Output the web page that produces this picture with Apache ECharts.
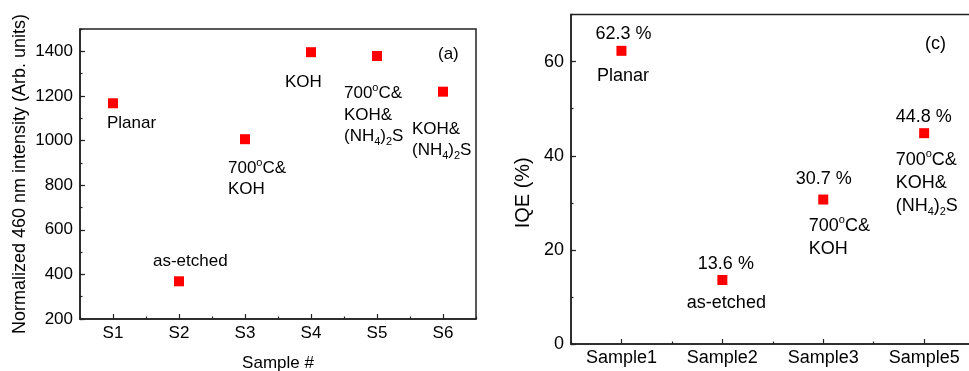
<!DOCTYPE html>
<html><head><meta charset="utf-8">
<script src="https://cdn.jsdelivr.net/npm/echarts@6/dist/echarts.min.js"></script>
<style>html,body{margin:0;padding:0;background:#fff}#c{width:969px;height:371px}</style>
</head><body><div id="c"></div>
<script>
// ---- data ----
const leftCategories = ['S1', 'S2', 'S3', 'S4', 'S5', 'S6'];
const leftValues = [1167, 369, 1006, 1396, 1379, 1219];
const leftNotes = ['Planar', 'as-etched', '700{sup|o}C&\nKOH', 'KOH',
  '700{sup|o}C&\nKOH&\n(NH{sub|4}){sub|2}S', 'KOH&\n(NH{sub|4}){sub|2}S'];

const rightCategories = ['Sample1', 'Sample2', 'Sample3', 'Sample5'];
const rightValues = [62.3, 13.6, 30.7, 44.8];
const rightNotes = ['Planar', 'as-etched', '700{sup|o}C&\nKOH',
  '700{sup|o}C&\nKOH&\n(NH{sub|4}){sub|2}S'];

// ---- layout (offsets of label's first line: left edge / line centre, from marker centre) ----
const leftNoteAt = [[-6, 20.5], [-26, -20], [-17, 29], [-26, 30], [-33, 37.5], [-31, 37.3]];
const rightValueAt = [[-26, -16.7], [-24.5, -15.7], [-27.5, -20.5], [-28.5, -15.8]];
const rightNoteAt = [[-24.5, 24.8], [-35.5, 22.8], [-14.5, 26], [-28.5, 27.2]];

const FONT = '"Liberation Sans", Arial, Helvetica, sans-serif';
const TXT = '#000';
const AX = '#222';
const RED = '#ff0000';
const SYM = 10;

function richFor(fs) {
  return {
    sup: { fontSize: Math.round(fs * 0.62), lineHeight: 12, verticalAlign: 'top', fontFamily: FONT, color: TXT },
    sub: { fontSize: Math.round(fs * 0.62), lineHeight: 12, verticalAlign: 'bottom', fontFamily: FONT, color: TXT }
  };
}
function labelAt(text, at, fs, lh) {
  return {
    show: true,
    formatter: text,
    position: [SYM / 2 + at[0], SYM / 2 + at[1] - lh / 2],
    align: 'left', verticalAlign: 'top',
    fontSize: fs, lineHeight: lh, fontFamily: FONT, color: TXT, opacity: 1,
    rich: richFor(fs)
  };
}

const LFS = 17, LLH = 21.5;
const RFS = 18, RLH = 23;

const leftData = leftValues.map((v, i) => ({ value: v, label: labelAt(leftNotes[i], leftNoteAt[i], LFS, LLH) }));
const rightValData = rightValues.map((v, i) => ({ value: v, label: labelAt(v.toFixed(1) + ' %', rightValueAt[i], RFS, RLH) }));
const rightNoteData = rightValues.map((v, i) => ({ value: v, label: labelAt(rightNotes[i], rightNoteAt[i], RFS, RLH) }));

const axisLine = { show: true, lineStyle: { color: AX, width: 1.5 } };
const majorTick = { show: true, inside: true, length: 5, alignWithLabel: true, lineStyle: { color: AX, width: 1.2 } };
const minorTick = { show: true, inside: true, length: 2.5, lineStyle: { color: AX, width: 1.2 } };
const plain = v => String(v);

const option = {
  animation: false,
  backgroundColor: '#fff',
  grid: [
    { left: 80, top: 29, width: 396, height: 290, show: true, borderColor: AX, borderWidth: 1.5,
      containLabel: false, outerBoundsMode: 'none' },
    { left: 571, top: 14.6, width: 403.6, height: 329.4, show: true, borderColor: AX, borderWidth: 1.5,
      containLabel: false, outerBoundsMode: 'none' }
  ],
  xAxis: [
    { type: 'category', gridIndex: 0, position: 'bottom', data: leftCategories, boundaryGap: true,
      axisLine: axisLine, axisTick: majorTick,
      axisLabel: { fontSize: LFS, fontFamily: FONT, color: TXT, margin: 6 },
      name: 'Sample #', nameLocation: 'middle', nameGap: 36,
      nameTextStyle: { fontSize: 17, fontFamily: FONT, color: TXT },
      splitLine: { show: false } },
    { type: 'category', gridIndex: 0, position: 'bottom', data: leftCategories, boundaryGap: true,
      axisLine: { show: false }, axisTick: Object.assign({}, minorTick, { alignWithLabel: false }),
      axisLabel: { show: false }, splitLine: { show: false } },
    { type: 'category', gridIndex: 1, position: 'bottom', data: rightCategories, boundaryGap: true,
      axisLine: axisLine, axisTick: majorTick,
      axisLabel: { fontSize: RFS, fontFamily: FONT, color: TXT, margin: 5 },
      splitLine: { show: false } },
    { type: 'category', gridIndex: 1, position: 'bottom', data: rightCategories, boundaryGap: true,
      axisLine: { show: false }, axisTick: Object.assign({}, minorTick, { alignWithLabel: false }),
      axisLabel: { show: false }, splitLine: { show: false } }
  ],
  yAxis: [
    { type: 'value', gridIndex: 0, position: 'left', min: 200, max: 1500, interval: 200,
      axisLine: axisLine, axisTick: majorTick,
      axisLabel: { fontSize: LFS, fontFamily: FONT, color: TXT, margin: 7, showMaxLabel: false, formatter: plain },
      splitLine: { show: false },
      name: 'Normalized 460 nm intensity (Arb. units)', nameLocation: 'middle', nameGap: 51,
      nameTextStyle: { fontSize: 18, fontFamily: FONT, color: TXT } },
    { type: 'value', gridIndex: 0, position: 'left', min: 200, max: 1500, interval: 100,
      axisLine: { show: false }, axisTick: minorTick, axisLabel: { show: false }, splitLine: { show: false } },
    { type: 'value', gridIndex: 1, position: 'left', min: 0, max: 70, interval: 20,
      axisLine: axisLine, axisTick: majorTick,
      axisLabel: { fontSize: RFS, fontFamily: FONT, color: TXT, margin: 7, showMaxLabel: false, formatter: plain },
      splitLine: { show: false },
      name: 'IQE (%)', nameLocation: 'middle', nameGap: 38,
      nameTextStyle: { fontSize: 20, fontFamily: FONT, color: TXT, padding: [0, 27, 0, 0] } },
    { type: 'value', gridIndex: 1, position: 'left', min: 0, max: 70, interval: 10,
      axisLine: { show: false }, axisTick: minorTick, axisLabel: { show: false }, splitLine: { show: false } }
  ],
  graphic: [
    { type: 'text', left: 438, top: 46, style: { text: '(a)', fontSize: 17, fontFamily: FONT, fill: TXT } },
    { type: 'text', left: 925, top: 35, style: { text: '(c)', fontSize: 18, fontFamily: FONT, fill: TXT } }
  ],
  series: [
    { type: 'scatter', xAxisIndex: 0, yAxisIndex: 0, symbol: 'rect', symbolSize: SYM,
      itemStyle: { color: RED, opacity: 1 }, data: leftData, emphasis: { disabled: true } },
    { type: 'scatter', xAxisIndex: 2, yAxisIndex: 2, symbol: 'rect', symbolSize: SYM,
      itemStyle: { color: RED, opacity: 1 }, data: rightValData, emphasis: { disabled: true } },
    { type: 'scatter', xAxisIndex: 2, yAxisIndex: 2, symbol: 'rect', symbolSize: SYM,
      itemStyle: { color: 'rgba(0,0,0,0)', opacity: 1 }, data: rightNoteData, emphasis: { disabled: true } }
  ]
};

echarts.init(document.getElementById('c'), null, { renderer: 'canvas' }).setOption(option);
</script>
</body></html>
